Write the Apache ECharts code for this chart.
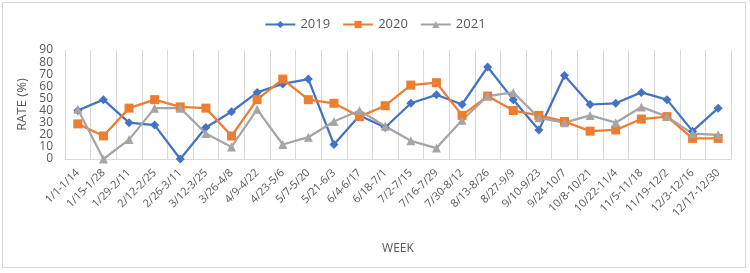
<!DOCTYPE html>
<html>
<head>
<meta charset="utf-8">
<script src="https://cdn.jsdelivr.net/npm/echarts@6/dist/echarts.min.js"></script>
<style>
  html, body { margin: 0; padding: 0; background: #fff; }
  #chart { width: 750px; height: 273px; }
  .frame { position: absolute; left: 2px; top: 2px; width: 744px; height: 266px; border: 1px solid #d9d9d9; box-sizing: border-box; pointer-events: none; }
</style>
</head>
<body>
<div id="chart"></div>
<div class="frame"></div>
<script>
// week ranges on the x axis
var weeks = ['1/1-1/14', '1/15-1/28', '1/29-2/11', '2/12-2/25', '2/26-3/11', '3/12-3/25',
  '3/26-4/8', '4/9-4/22', '4/23-5/6', '5/7-5/20', '5/21-6/3', '6/4-6/17', '6/18-7/1',
  '7/2-7/15', '7/16-7/29', '7/30-8/12', '8/13-8/26', '8/27-9/9', '9/10-9/23', '9/24-10/7',
  '10/8-10/21', '10/22-11/4', '11/5-11/18', '11/19-12/2', '12/3-12/16', '12/17-12/30']

// rate (%) per year
var rate2019 = [40, 49, 30, 28, 0, 26, 39, 55, 62, 66, 12, 36, 26, 46, 53, 45, 76, 49, 24, 69, 45, 46, 55, 49, 23, 42]
var rate2020 = [29, 19, 42, 49, 43, 42, 19, 49, 66, 49, 46, 35, 44, 61, 63, 36, 52, 40, 36, 31, 23, 24, 33, 35, 17, 17]
var rate2021 = [41, 0, 16, 42, 42, 21, 10, 41, 12, 18, 31, 40, 27, 15, 9, 32, 52, 55, 34, 30, 36, 30, 43, 35, 21, 20]

var yTicks = { min: 0, max: 90, step: 10 }

var txt = '#595959'
function line (name, data, color, symbol, size) {
  return {
    name: name,
    type: 'line',
    data: data,
    symbol: symbol,
    symbolSize: size,
    lineStyle: { color: color, width: 2.25 },
    itemStyle: { color: color },
    emphasis: { disabled: true }
  }
}

var chart = echarts.init(document.getElementById('chart'))
chart.setOption({
  animation: false,
  textStyle: { fontFamily: 'Open Sans, Liberation Sans, sans-serif' },
  legend: {
    top: 13,
    left: 'center',
    itemWidth: 30,
    itemHeight: 9,
    itemGap: 12,
    textStyle: { color: txt, fontSize: 13 },
    data: ['2019', '2020', '2021']
  },
  grid: {
    left: 65,
    right: 19,
    top: 50,
    bottom: 114
  },
  xAxis: {
    type: 'category',
    data: weeks,
    boundaryGap: true,
    name: 'WEEK',
    nameLocation: 'middle',
    nameGap: 84,
    nameTextStyle: { color: txt, fontSize: 12 },
    axisLine: { lineStyle: { color: '#d9d9d9' } },
    axisTick: { show: false },
    splitLine: { show: true, lineStyle: { color: '#d9d9d9' } },
    axisLabel: {
      interval: 0,
      rotate: 45,
      color: txt,
      fontSize: 11,
      margin: 12
    }
  },
  yAxis: {
    type: 'value',
    min: yTicks.min,
    max: yTicks.max,
    interval: yTicks.step,
    name: 'RATE (%)',
    nameLocation: 'middle',
    nameGap: 30,
    nameTextStyle: { color: txt, fontSize: 13 },
    axisLine: { show: false },
    axisTick: { show: false },
    splitLine: { show: false },
    axisLabel: {
      interval: 0,
      color: txt,
      fontSize: 12,
      lineHeight: 10,
      margin: 12,
      showMinLabel: true,
      showMaxLabel: true,
      hideOverlap: false
    }
  },
  series: [
    line('2019', rate2019, '#4472C4', 'diamond', 9),
    line('2020', rate2020, '#ED7D31', 'rect', 9),
    line('2021', rate2021, '#A5A5A5', 'triangle', 9)
  ]
})
</script>
</body>
</html>
